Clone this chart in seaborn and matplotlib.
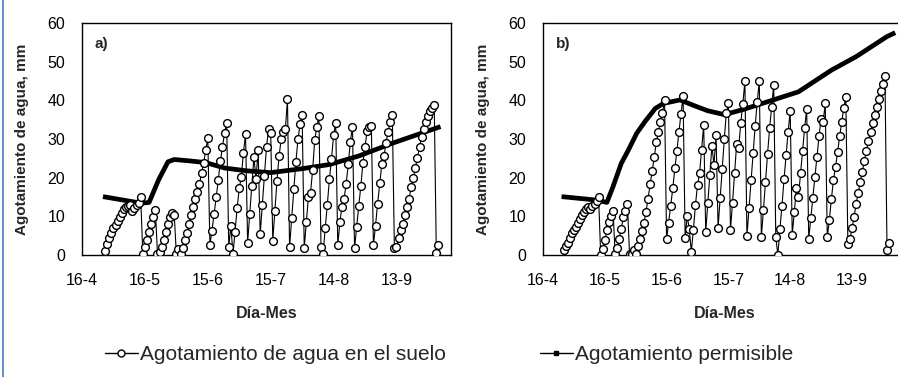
import numpy as np
import pandas as pd
import matplotlib
matplotlib.use("Agg")
import matplotlib.pyplot as plt
import seaborn as sns
from matplotlib.lines import Line2D

# ---------------- data ----------------
tick_days = [0, 30, 60, 90, 120, 150]
tick_labels = ["16-4", "16-5", "15-6", "15-7", "14-8", "13-9"]
y_ticks = [0, 10, 20, 30, 40, 50, 60]

# panel a) daily soil water depletion (mm), first value on day 11 after 16-4
a_start = 11
a_depletion = [
    1.1, 2.8, 4.3, 5.8, 6.9, 7.8, 8.9, 9.9, 10.8, 11.8, 12.4, 12.7, 13.0, 11.5, 12.2, 13.0, 13.4, 14.9,
    0.3, 2.1, 4.0, 6.0, 8.0, 9.9, 11.6,
    0.3, 0.9, 2.1, 4.0, 6.0, 8.0, 9.7, 10.8, 10.3,
    0.3, 1.5, 0.3,
    1.7, 3.9, 5.8, 8.0, 10.3, 12.3, 14.6, 16.3, 18.3, 21.1, 23.7, 27.1, 30.2,
    2.6, 6.3, 10.5, 14.9, 19.4, 24.3, 28.0, 31.5, 34.2,
    2.1, 7.6, 0.2, 6.0, 12.2, 17.2, 20.3, 26.5, 31.3,
    3.2, 10.5, 17.8, 25.3, 19.6, 27.2,
    5.4, 12.9, 20.5, 28.0, 32.5, 31.6,
    3.7, 11.4, 19.2, 25.6, 29.9, 31.9, 32.5, 40.3,
    2.1, 9.5, 17.0, 24.0, 29.9, 33.8, 36.2,
    1.7, 8.6, 14.9, 16.0, 22.0, 29.7, 33.2, 35.9,
    2.0, 0.3, 6.9, 12.9, 19.6, 24.8, 31.0, 34.2,
    2.6, 8.5, 12.5, 14.5, 18.4, 23.5, 29.3, 33.2,
    1.7, 7.3, 12.7, 17.8, 23.9, 28.0, 32.1, 33.0, 33.4,
    2.6, 7.6, 13.3, 18.5, 23.5, 25.5, 28.9, 31.9, 34.5, 36.2,
    1.7, 2.1, 4.3, 6.5, 8.0, 10.3, 12.5, 14.6, 17.5, 19.8, 22.6, 25.1, 28.0, 30.5, 32.7, 34.4,
    35.9, 37.2, 38.0, 38.9,
    0.5, 2.6,
]
# panel a) permissible depletion (mm) read at these days
a_perm_days = [10, 24, 28, 32, 36.5, 41, 44, 52, 59, 68, 78, 90, 106, 118, 132, 148, 171]
a_perm_vals = [15.1, 13.8, 13.4, 13.6, 19.4, 24.1, 24.7, 24.3, 23.9, 22.5, 21.8, 21.3, 22.4, 23.4, 25.6, 28.9, 33.2]

# panel b)
b_start = 10
b_depletion = [
    1.3, 2.2, 3.2, 4.5, 5.6, 6.4, 7.3, 8.3, 9.3, 10.3, 11.2, 11.9, 12.5, 12.0, 12.8, 13.2, 13.9, 14.9,
    0.0, 1.5, 3.9, 6.4, 8.6, 10.0, 11.5,
    0.3, 1.7, 4.2, 6.8, 9.8, 11.5, 13.1,
    0.3, 0.3, 1.3, 0.3,
    2.2, 4.1, 6.1, 8.4, 11.2, 14.5, 18.3, 21.6, 25.3, 29.1, 31.7, 34.5, 36.7, 40.1,
    4.1, 8.4, 12.8, 17.2, 22.4, 26.9, 31.9, 36.5, 41.1,
    4.3, 10.2, 6.6, 0.9,
    6.5, 12.9, 18.1, 21.1, 27.2, 33.6,
    6.0, 13.4, 20.7, 28.2, 23.3, 31.0,
    7.1, 14.7, 22.2, 29.9, 36.8, 39.2,
    6.5, 13.5, 21.3, 28.7, 27.6, 34.2, 39.0, 45.0,
    4.9, 12.1, 19.4, 26.5, 33.4, 39.6, 45.0,
    4.7, 11.6, 19.0, 26.1, 32.8, 38.4, 44.0,
    4.7, 0.0, 6.6, 12.7, 19.6, 25.9, 31.9, 37.2,
    5.2, 11.2, 17.2, 15.1, 21.1, 26.9, 32.8, 37.7,
    4.1, 9.5, 14.7, 20.3, 25.4, 30.8, 35.3, 34.5, 39.2,
    4.6, 9.0, 14.5, 19.4, 22.7, 26.7, 30.8, 34.5, 37.9, 40.9,
    2.8, 4.1, 6.9, 9.9, 13.2, 16.0, 19.0, 21.5, 24.4, 27.0, 29.6, 31.9, 34.1, 36.2, 38.4, 40.3,
    42.5, 44.2, 46.3,
    1.3, 3.2,
]
b_perm_days = [9, 26, 31, 34, 38, 41.5, 45.5, 49.5, 54.5, 58.5, 66.5, 74, 80, 88, 97, 110, 124, 140, 152, 167, 171]
b_perm_vals = [15.1, 14.2, 13.6, 17.7, 23.7, 27.2, 31.5, 34.5, 37.9, 39.2, 40.1, 38.5, 37.3, 36.3, 37.6, 39.8, 42.2, 47.8, 51.3, 56.5, 57.5]

panel_labels = ["a)", "b)"]
series_names = ["Agotamiento de agua en el suelo", "Agotamiento permisible"]
x_label = "Día-Mes"
y_label = "Agotamiento de agua, mm"

# ---------------- figure ----------------
sns.set_theme(style="white")
plt.rcParams["font.family"] = ["Liberation Sans", "DejaVu Sans"]

W, H = 898, 377
fig = plt.figure(figsize=(W / 100, H / 100), dpi=100)

def frac_box(x0, y0, x1, y1):
    return [x0 / W, 1 - y1 / H, (x1 - x0) / W, (y1 - y0) / H]

ax_a = fig.add_axes(frac_box(82, 23, 451, 255))
ax_b = fig.add_axes(frac_box(543, 23, 543 + 176 * 2.06, 255))

panels = [
    (ax_a, a_start, a_depletion, a_perm_days, a_perm_vals, panel_labels[0]),
    (ax_b, b_start, b_depletion, b_perm_days, b_perm_vals, panel_labels[1]),
]

for ax, start, depl, pdays, pvals, lab in panels:
    df = pd.DataFrame({"dia": np.arange(start, start + len(depl)), "agot": depl})
    dp = pd.DataFrame({"dia": pdays, "perm": pvals})
    sns.lineplot(data=dp, x="dia", y="perm", ax=ax, color="black", lw=3.4,
                 solid_capstyle="butt", zorder=2)
    sns.lineplot(data=df, x="dia", y="agot", ax=ax, color="black", lw=0.8,
                 marker="o", markersize=5.6, markerfacecolor="white",
                 markeredgecolor="black", markeredgewidth=1.0, zorder=3)
    ax.set_xlim(0, 176)
    ax.set_ylim(0, 60)
    ax.set_xticks(tick_days)
    ax.set_xticklabels(tick_labels)
    ax.set_yticks(y_ticks)
    ax.tick_params(axis="both", length=0, labelsize=11.5, colors="black")
    ax.tick_params(axis="y", pad=12)
    ax.tick_params(axis="x", pad=13)
    ax.set_xlabel(x_label, fontsize=11.5, fontweight="bold", labelpad=13)
    ax.set_ylabel(y_label, fontsize=11, fontweight="bold", labelpad=13)
    for s in ax.spines.values():
        s.set_color("black")
        s.set_linewidth(1.0)
    ax.text(0.035, 0.91, lab, transform=ax.transAxes, fontsize=11,
            fontweight="bold", va="center", ha="left")
    ax.grid(False)

handles = [
    Line2D([], [], color="black", lw=1.0, marker="o", markersize=5,
           markerfacecolor="white", markeredgecolor="black", markeredgewidth=1.0),
    Line2D([], [], color="black", lw=1.0, marker="s", markersize=3),
]
fig.legend(handles, series_names, loc="center", bbox_to_anchor=(0.5, 1 - 355 / H),
           ncol=2, frameon=False, fontsize=15, handlelength=1.6,
           handletextpad=0.1, columnspacing=4.5)

# thin blue frame line on the left edge
fig.add_artist(Line2D([3 / W, 3 / W], [0, 1], transform=fig.transFigure,
                      color="#3f7fc4", lw=1.2))

fig.savefig("out.png", dpi=100, facecolor="white")
